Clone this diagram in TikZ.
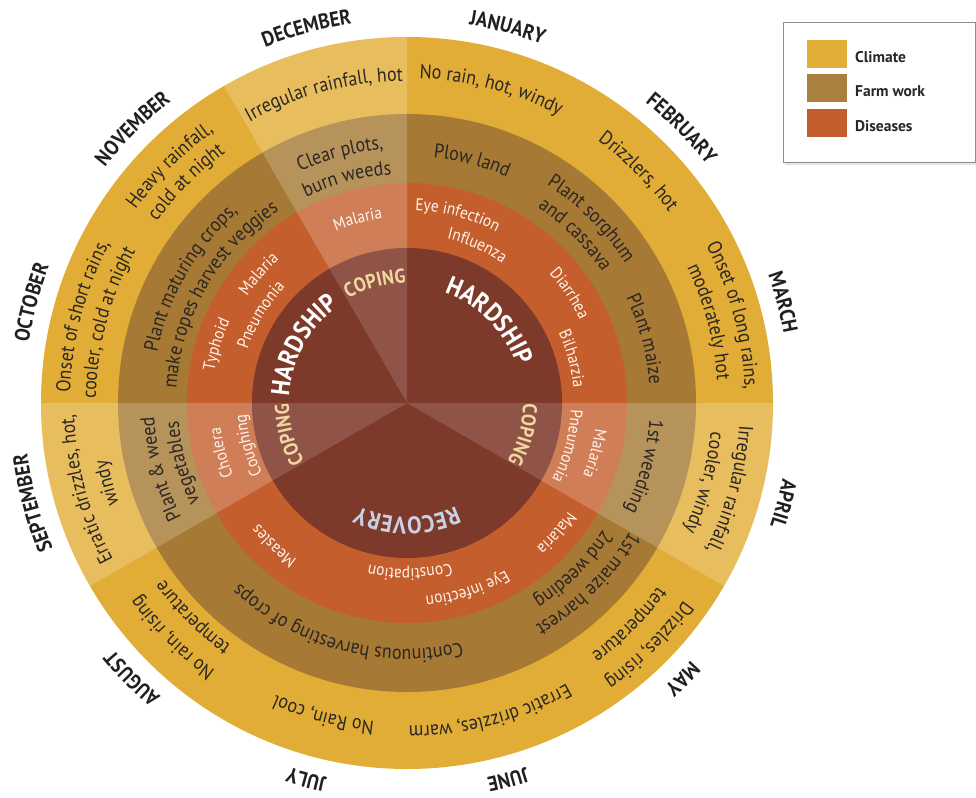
\documentclass[tikz,border=0pt]{standalone}
\usepackage{fontspec}
\setmainfont{PT Sans}
\newfontfamily\ptc{PT Sans}[FakeStretch=0.9]
\newfontfamily\ptn{PT Sans}
\usetikzlibrary{decorations.text}
\definecolor{clim}{HTML}{E2AD36}
\definecolor{farm}{HTML}{A67934}
\definecolor{dise}{HTML}{C55E2D}
\definecolor{innr}{HTML}{7D3929}
\definecolor{txtdark}{HTML}{2A2623}
\definecolor{mon}{HTML}{231F20}
\definecolor{distxt}{HTML}{FFF4EC}
\definecolor{coptxt}{HTML}{F2D7A0}
\definecolor{rectxt}{HTML}{C8D0E6}
\newcommand\fclim{\ptc\fontsize{20}{24}\selectfont}
\newcommand\fdis{\ptc\fontsize{17}{20}\selectfont}
\newcommand\fmon{\ptc\bfseries\fontsize{21}{24}\selectfont}
\newcommand\fhard{\ptc\bfseries\fontsize{26}{30}\selectfont}
\newcommand\fcop{\ptc\bfseries\fontsize{20}{24}\selectfont}
\newcommand\frec{\ptc\bfseries\fontsize{24}{28}\selectfont}
% #1 baseline radius, #2 centre angle, #3 font, #4 colour, #5 text (clockwise)
\newcommand\arct[5]{%
  \path[decorate,decoration={text along path,text align=center,text color=#4,text={|#3|#5}}]
    (#2+70:#1) arc[start angle=#2+70,end angle=#2-70,radius=#1];}
\begin{document}
\begin{tikzpicture}[x=1pt,y=1pt,
  swatch/.style={rectangle,minimum width=40pt,minimum height=28pt,inner sep=0pt},
  legtext/.style={anchor=west,inner sep=0pt,text=txtdark,font=\ptn\bfseries\fontsize{15.5}{18}\selectfont}]
\useasboundingbox (-407,-394) rectangle (569,403);
% rings
\fill[clim] (0,0) circle (366);
\fill[farm] (0,0) circle (289);
\fill[dise] (0,0) circle (220);
\foreach \a in {90,180,330}
  \fill[white,opacity=0.2] (0,0) -- (\a:366) arc[start angle=\a,end angle=\a+30,radius=366] -- cycle;
\fill[innr] (0,0) circle (155);
\foreach \a in {90,180,330}
  \fill[white,opacity=0.14] (0,0) -- (\a:155) arc[start angle=\a,end angle=\a+30,radius=155] -- cycle;
% months
\arct{383}{75}{\fmon}{mon}{JANUARY}
\arct{383}{45}{\fmon}{mon}{FEBRUARY}
\arct{383}{15}{\fmon}{mon}{MARCH}
\arct{383}{-15}{\fmon}{mon}{APRIL}
\arct{383}{-45}{\fmon}{mon}{MAY}
\arct{383}{-75}{\fmon}{mon}{JUNE}
\arct{383}{-105}{\fmon}{mon}{JULY}
\arct{383}{-135}{\fmon}{mon}{AUGUST}
\arct{383}{-165}{\fmon}{mon}{SEPTEMBER}
\arct{383}{165}{\fmon}{mon}{OCTOBER}
\arct{383}{135}{\fmon}{mon}{NOVEMBER}
\arct{383}{105}{\fmon}{mon}{DECEMBER}
% climate
\arct{322}{105}{\fclim}{txtdark}{Irregular rainfall, hot}
\arct{325}{75}{\fclim}{txtdark}{No rain, hot, windy}
\arct{324}{45}{\fclim}{txtdark}{Drizzlers, hot}
\arct{338}{15}{\fclim}{txtdark}{Onset of long rains,}
\arct{311}{15}{\fclim}{txtdark}{moderately hot}
\arct{333}{-15}{\fclim}{txtdark}{Irregular rainfall,}
\arct{305}{-15}{\fclim}{txtdark}{cooler, windy}
\arct{340}{-45}{\fclim}{txtdark}{Drizzles, rising}
\arct{311}{-45}{\fclim}{txtdark}{temperature}
\arct{323}{-75}{\fclim}{txtdark}{Erratic drizzles, warm}
\arct{320}{-105}{\fclim}{txtdark}{No Rain, cool}
\arct{329}{-135}{\fclim}{txtdark}{No rain, rising}
\arct{300}{-135}{\fclim}{txtdark}{temperature}
\arct{333}{-165}{\fclim}{txtdark}{Erratic drizzles, hot,}
\arct{305}{-165}{\fclim}{txtdark}{windy}
\arct{337}{165}{\fclim}{txtdark}{Onset of short rains,}
\arct{311}{165}{\fclim}{txtdark}{cooler, cold at night}
\arct{333}{135}{\fclim}{txtdark}{Heavy rainfall,}
\arct{309}{135}{\fclim}{txtdark}{cold at night}
% farm work
\arct{255}{105}{\fclim}{txtdark}{Clear plots,}
\arct{229}{105}{\fclim}{txtdark}{burn weeds}
\arct{247}{75}{\fclim}{txtdark}{Plow land}
\arct{259}{45}{\fclim}{txtdark}{Plant sorghum}
\arct{235}{45}{\fclim}{txtdark}{and cassava}
\arct{243}{15}{\fclim}{txtdark}{Plant maize}
\arct{243}{-15}{\fclim}{txtdark}{1st weeding}
\arct{257}{-45}{\fclim}{txtdark}{1st maize harvest}
\arct{233}{-45}{\fclim}{txtdark}{2nd weeding}
\arct{246}{-105}{\fclim}{txtdark}{Continuous harvesting of crops}
\arct{253}{-165}{\fclim}{txtdark}{Plant {\&} weed}
\arct{229}{-165}{\fclim}{txtdark}{vegetables}
\arct{255}{150}{\fclim}{txtdark}{Plant maturing crops,}
\arct{231}{150}{\fclim}{txtdark}{make ropes harvest veggies}
% diseases
\arct{186}{105}{\fdis}{distxt}{Malaria}
\arct{193}{75}{\fdis}{distxt}{Eye infection}
\arct{169}{66}{\fdis}{distxt}{Influenza}
\arct{192}{34}{\fdis}{distxt}{Diarrhea}
\arct{167}{15}{\fdis}{distxt}{Bilharzia}
\arct{190}{-15}{\fdis}{distxt}{Malaria}
\arct{164}{-15}{\fdis}{distxt}{Pneumonia}
\arct{194}{-41}{\fdis}{distxt}{Malaria}
\arct{194}{-72}{\fdis}{distxt}{Eye infection}
\arct{166}{-89}{\fdis}{distxt}{Constipation}
\arct{191}{-133}{\fdis}{distxt}{Measles}
\arct{188}{-165}{\fdis}{distxt}{Cholera}
\arct{161}{-165}{\fdis}{distxt}{Coughing}
\arct{195}{163}{\fdis}{distxt}{Typhoid}
\arct{192}{139}{\fdis}{distxt}{Malaria}
\arct{168}{149}{\fdis}{distxt}{Pneumonia}
% centre
\arct{116}{45}{\fhard}{white}{HARDSHIP}
\arct{118}{151}{\fhard}{white}{HARDSHIP}
\arct{120}{105}{\fcop}{coptxt}{COPING}
\arct{116}{-15}{\fcop}{coptxt}{COPING}
\arct{118}{-165}{\fcop}{coptxt}{COPING}
\arct{114}{-90}{\frec}{rectxt}{RECOVERY}
% legend
\fill[black!10] (378,238) rectangle (570,378);
\draw[black!45,line width=1pt,fill=white] (376,380) rectangle (568,240);
\node[swatch,fill=clim] (swc) at (419.7,349) {};
\node[swatch,fill=farm!95!white] (swf) at (419.7,314.5) {};
\node[swatch,fill=dise] (swd) at (419.7,279.5) {};
\node[legtext] (lc) at (448,346.3) {Climate};
\node[legtext] (lf) at (448,312) {Farm work};
\node[legtext] (ld) at (448,277.3) {Diseases};
\end{tikzpicture}
\end{document}
